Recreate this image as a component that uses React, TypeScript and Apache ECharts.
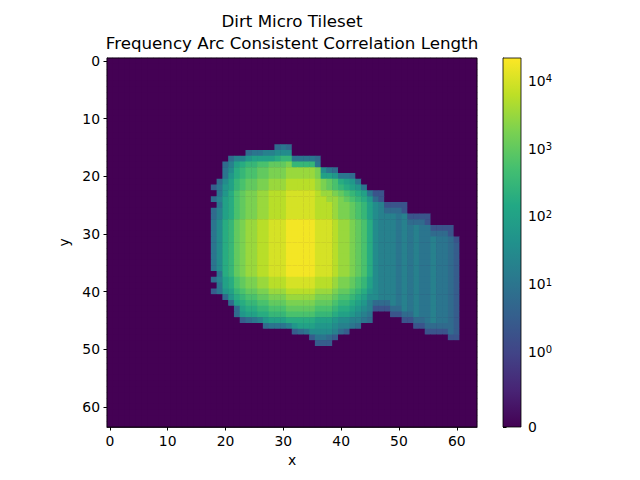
import React, { useEffect, useRef } from 'react';
import * as echarts from 'echarts';

const gridSize = 64;
const axisTicks = [0, 10, 20, 30, 40, 50, 60];
const colorbarTicks = [0, 1, 10, 100, 1000, 10000];
const colorbarLabels = ['0', '10{sup|0}', '10{sup|1}', '10{sup|2}', '10{sup|3}', '10{sup|4}'];
const countMax = 21700;

// counts: code k => 10^(k/4), '.' => 0
const levelCodes = '0123456789ABCDEFGH';
const firstRow = 15;
const rowStart = [
    29, 24, 21, 20, 20, 20, 19, 18, 19, 18, 19, 18, 18, 18, 18, 18, 18, 18,
    18, 18, 18, 18, 19, 18, 19, 18, 20, 21, 22, 22, 23, 27, 32, 35, 36,
];
const rowCodes = [
    '343',
    '34455666',
    '355788889AA44443',
    '3589AABBCCCDAAAA4',
    '469ABBCCDDDEEEEED643',
    '479ABBCCDDDEEEEED887443',
    '368ABCCDDEEEFFFFFEDCB9874',
    '2478ABCCDDEEEFFFFFEDCBA9874',
    '479BCDDEEFFFGGGGGFEEDCBA98411',
    '3589BCDDEEFFFGGGGGFFEEDCBA9731',
    '489BCDDEEFFFGGGGGFFFEDDCBA8651111',
    '3589BCDDEEFFFGGGGGFFFEDDCBA8653331',
    '3589BCDDEEFFFGGGGGFFFEDDCBA86555451111',
    '469ACDEEFFGGGHHHHHGGGFEEDCB96555453331',
    '469ACDEEFFGGGHHHHHGGGFEEDCB965554545441111',
    '469ACDEEFFGGGHHHHHGGGFEEDCB965554545443331',
    '469ACDEEFFGGGHHHHHGGGFEEDCB9655545454454431',
    '469ACDEEFFGGGHHHHHGGGFEEDCB9655545454454432',
    '469ACDEEFFGGGHHHHHGGGFEEDCB9655545454454432',
    '469ACDEEFFGGGHHHHHGGGFEEDCB9655545454454432',
    '469ACDEEFFGGGHHHHHGGGFEEDCB9655545454454432',
    '469ACDEEFFGGGHHHHHGGGFEEDCB9655545454454432',
    '49ACDEEFFGGGHHHHHGGGFEEDCB9655545454454432',
    '3589BCDDEEFFFGGGGGFFFEDDCBA8655545454454432',
    '489BCDDEEFFFGGGGGFFFEDDCBA8655545454454432',
    '2478ABCCDDEEEFFFFFEEEDCCBA97655545454454432',
    '379ABBCCDDDEEEEEDDDCBBA986655545454454432',
    '389AABBCCCDDDDDCCCBAA9875333545454454432',
    '3899AABBBCCCCCBBBA998765111335454454432',
    '378899AAABBBBBAAA9887654...113354454432',
    '23457888999998887665543.....1133454432',
    '34445788877765543.........11333332',
    '2346666532.............111132',
    '24432...................11',
    '222',
];

const viridis = [
    '#440154', '#482475', '#414487', '#355f8d', '#2a788e', '#21918c',
    '#22a884', '#44bf70', '#7ad151', '#bddf26', '#fde725',
];

// matplotlib SymLogNorm(linthresh=1, linscale=1)
const symlog = (v: number) => (v <= 1 ? v / 0.9 : 1 / 0.9 + Math.log10(v));

const cellCount = (r: number, c: number) => {
    const i = r - firstRow;
    if (i < 0 || i >= rowCodes.length) return 0;
    const ch = rowCodes[i][c - rowStart[i]];
    if (!ch || ch === '.') return 0;
    return Math.round(Math.pow(10, levelCodes.indexOf(ch) / 4));
};

const plot = { left: 107, top: 58, width: 370, height: 369 };
const bar = { left: 503, top: 58, width: 18, height: 369 };
const font = 'DejaVu Sans';

const App: React.FC = () => {
    const chartRef = useRef<HTMLDivElement | null>(null);

    useEffect(() => {
        if (!chartRef.current) return;
        const chart = echarts.init(chartRef.current, null, { renderer: 'svg' });

        const cats = Array.from({ length: gridSize }, (_, i) => String(i));
        const data: number[][] = [];
        for (let r = 0; r < gridSize; r++) {
            for (let c = 0; c < gridSize; c++) {
                data.push([c, r, symlog(cellCount(r, c))]);
            }
        }
        const tMax = symlog(countMax);
        const barTicks = colorbarTicks.map(symlog);
        const tickLine = { color: '#000', width: 1 };
        const axisLine = { show: true, lineStyle: { color: '#000', width: 0.8 } };
        const showTick = (i: number) => axisTicks.includes(i);
        const label = { margin: 7, fontSize: 13.9, color: '#000', fontFamily: font };
        const nameStyle = { fontSize: 13.9, color: '#000', fontFamily: font };

        chart.setOption({
            animation: false,
            textStyle: { fontFamily: font },
            grid: [
                { ...plot, show: true, backgroundColor: '#440154', borderWidth: 0 },
                { ...bar },
            ],
            xAxis: [
                {
                    type: 'category', gridIndex: 0, data: cats,
                    name: 'x', nameLocation: 'middle', nameGap: 21, nameTextStyle: nameStyle,
                    axisLine,
                    axisTick: { show: true, interval: (i: number) => showTick(i), alignWithLabel: true, length: 3.5, lineStyle: tickLine },
                    axisLabel: { ...label, interval: (i: number) => showTick(i) },
                    splitLine: { show: false },
                },
                { type: 'value', gridIndex: 1, show: false, min: 0, max: 1 },
            ],
            yAxis: [
                {
                    type: 'category', gridIndex: 0, data: cats, inverse: true,
                    name: 'y', nameLocation: 'middle', nameGap: 34, nameRotate: 90, nameTextStyle: nameStyle,
                    axisLine,
                    axisTick: { show: true, interval: (i: number) => showTick(i), alignWithLabel: true, length: 3.5, lineStyle: tickLine },
                    axisLabel: { ...label, interval: (i: number) => showTick(i) },
                    splitLine: { show: false },
                },
                {
                    type: 'value', gridIndex: 1, position: 'right', min: 0, max: tMax,
                    axisLine,
                    splitLine: { show: false },
                    axisTick: { show: true, length: 3.5, lineStyle: tickLine, customValues: barTicks },
                    axisLabel: {
                        ...label,
                        customValues: barTicks,
                        formatter: (v: number) => {
                            const i = barTicks.findIndex((t) => Math.abs(t - v) < 1e-6);
                            return i >= 0 ? colorbarLabels[i] : '';
                        },
                        rich: {
                            sup: { fontSize: 10, lineHeight: 10, verticalAlign: 'top', color: '#000', fontFamily: font },
                        },
                    },
                },
            ],
            visualMap: {
                type: 'continuous', show: false, min: 0, max: tMax, dimension: 2, seriesIndex: 0,
                inRange: { color: viridis },
            },
            series: [
                {
                    type: 'heatmap', xAxisIndex: 0, yAxisIndex: 0, data,
                    progressive: 0, emphasis: { disabled: true },
                    itemStyle: { borderWidth: 0 },
                },
            ],
            graphic: [
                {
                    type: 'text', x: plot.left + plot.width / 2, y: 21,
                    style: { text: 'Dirt Micro Tileset', font: `16.7px "${font}"`, fill: '#000', textAlign: 'center', textVerticalAlign: 'middle' },
                },
                {
                    type: 'text', x: plot.left + plot.width / 2, y: 43,
                    style: { text: 'Frequency Arc Consistent Correlation Length', font: `16.7px "${font}"`, fill: '#000', textAlign: 'center', textVerticalAlign: 'middle' },
                },
                {
                    type: 'rect', z: 100,
                    shape: { x: plot.left, y: plot.top, width: plot.width, height: plot.height },
                    style: { fill: 'none', stroke: '#000', lineWidth: 0.8 },
                },
                {
                    type: 'rect', z: 90,
                    shape: { x: bar.left, y: bar.top, width: bar.width, height: bar.height },
                    style: {
                        fill: new echarts.graphic.LinearGradient(0, 1, 0, 0,
                            viridis.map((color, i) => ({ offset: i / (viridis.length - 1), color }))),
                    },
                },
                {
                    type: 'rect', z: 100,
                    shape: { x: bar.left, y: bar.top, width: bar.width, height: bar.height },
                    style: { fill: 'none', stroke: '#000', lineWidth: 0.8 },
                },
            ],
        });

        return () => {
            chart.dispose();
        };
    }, []);

    return (
        <div
            ref={chartRef}
            style={{ position: 'fixed', left: 0, top: 0, width: '640px', height: '480px', background: '#fff' }}
        />
    );
};

export default App;
